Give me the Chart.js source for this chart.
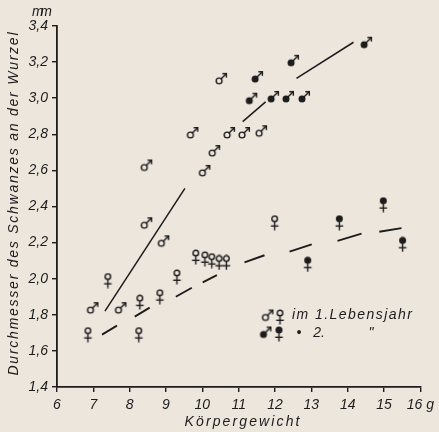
<!DOCTYPE html>
<html><head><meta charset="utf-8">
<script src="https://cdn.jsdelivr.net/npm/chart.js@4"></script>
<style>html,body{margin:0;padding:0;background:#ece6dd;} canvas{display:block}</style>
</head><body>
<canvas id="c" width="439" height="432"></canvas>
<script>
// ---- data ----
const male1X = [6.99, 7.76, 8.47, 8.94, 8.47, 9.74, 10.07, 10.34, 10.53, 10.75, 11.16, 11.63];
const male1Y = [1.84, 1.84, 2.31, 2.21, 2.63, 2.81, 2.60, 2.71, 3.11, 2.81, 2.81, 2.82];
const male2X = [11.36, 11.52, 11.96, 12.37, 12.51, 12.81, 14.52];
const male2Y = [3.00, 3.12, 3.01, 3.01, 3.21, 3.01, 3.31];
const female1X = [6.85, 7.40, 8.25, 8.28, 8.83, 9.30, 9.82, 10.07, 10.26, 10.46, 10.66, 11.99];
const female1Y = [1.69, 1.99, 1.69, 1.87, 1.90, 2.01, 2.12, 2.11, 2.10, 2.09, 2.09, 2.31];
const female2X = [12.90, 13.77, 14.98, 15.51];
const female2Y = [2.08, 2.31, 2.41, 2.19];
// trend curves (drawn in pieces as in the original)
const maleTrendSegX = [[7.32, 9.52], [11.11, 11.74], [12.59, 14.16]];
const maleTrendSegY = [[1.82, 2.50], [2.87, 2.98], [3.11, 3.31]];
const femTrendSegX = [[7.24, 7.65], [8.14, 8.55], [9.27, 9.71], [10.01, 10.40], [11.16, 11.71], [12.40, 13.01], [13.72, 14.38], [14.87, 15.48]];
const femTrendSegY = [[1.69, 1.74], [1.79, 1.84], [1.90, 1.95], [1.98, 2.02], [2.09, 2.13], [2.15, 2.19], [2.21, 2.25], [2.26, 2.28]];
const xTickValues = [6, 7, 8, 9, 10, 11, 12, 13, 14, 15, 16];
const xTickLabels = ['6', '7', '8', '9', '10', '11', '12', '13', '14', '15', '16 g'];
const yTickValues = [1.4, 1.6, 1.8, 2.0, 2.2, 2.4, 2.6, 2.8, 3.0, 3.2, 3.4];
const yTickLabels = ['1,4', '1,6', '1,8', '2,0', '2,2', '2,4', '2,6', '2,8', '3,0', '3,2', '3,4'];
const xTitle = 'Körpergewicht';
const yTitle = 'Durchmesser des Schwanzes an der Wurzel';
const unitLabel = 'mm';
const legendRow1 = 'im 1.Lebensjahr';
const legendRow2 = ['•', '2.', '"'];

// ---- styles ----
const INK = '#1c1c1c';
const FONT = 'italic 14px "Liberation Sans", Arial, sans-serif';

function makeMale(filled) {
  const c = document.createElement('canvas'); c.width = 15; c.height = 15;
  const g = c.getContext('2d');
  g.strokeStyle = INK; g.fillStyle = INK; g.lineWidth = 1.4; g.lineCap = 'round';
  g.beginPath();
  if (filled) { g.arc(5, 10, 3.5, 0, Math.PI * 2); g.fill(); }
  else { g.arc(5, 10, 2.9, 0, Math.PI * 2); g.stroke(); }
  g.beginPath(); g.moveTo(7.2, 7.8); g.lineTo(12.3, 2.7); g.stroke();
  g.beginPath(); g.moveTo(8.8, 2.7); g.lineTo(12.3, 2.7); g.lineTo(12.3, 6.2); g.stroke();
  return c;
}
function makeFemale(filled) {
  const c = document.createElement('canvas'); c.width = 11; c.height = 16;
  const g = c.getContext('2d');
  g.strokeStyle = INK; g.fillStyle = INK; g.lineWidth = 1.4; g.lineCap = 'butt';
  g.beginPath();
  if (filled) { g.arc(5.5, 4, 3.5, 0, Math.PI * 2); g.fill(); }
  else { g.arc(5.5, 4, 2.8, 0, Math.PI * 2); g.stroke(); }
  g.beginPath(); g.moveTo(5.5, 7); g.lineTo(5.5, 15.5); g.stroke();
  g.beginPath(); g.moveTo(1.7, 11.3); g.lineTo(9.3, 11.3); g.stroke();
  return c;
}
const imgM1 = makeMale(false), imgM2 = makeMale(true), imgF1 = makeFemale(false), imgF2 = makeFemale(true);

const pts = (xs, ys) => xs.map((x, i) => ({ x, y: ys[i] }));
function scatterSet(xs, ys, img) {
  return { type: 'scatter', data: pts(xs, ys), pointStyle: img, pointRadius: 6, pointHoverRadius: 6 };
}
function segSets(sx, sy, width) {
  return sx.map((xs, i) => ({ type: 'line', data: pts(xs, sy[i]), borderColor: INK, borderWidth: width,
    pointRadius: 0, fill: false, tension: 0, borderCapStyle: 'butt' }));
}

function drawSpaced(ctx, text, x, y, targetWidth, align) {
  ctx.letterSpacing = '0px';
  const w = ctx.measureText(text).width;
  const sp = text.length > 1 ? (targetWidth - w) / (text.length - 1) : 0;
  ctx.letterSpacing = sp + 'px';
  const total = w + sp * (text.length - 1);
  let sx = x;
  if (align === 'center') sx = x - total / 2;
  ctx.textAlign = 'left';
  ctx.fillText(text, sx, y);
  ctx.letterSpacing = '0px';
}

const decor = {
  id: 'decor',
  afterDraw(chart) {
    const ctx = chart.ctx;
    ctx.save();
    ctx.fillStyle = INK; ctx.font = FONT; ctx.textBaseline = 'middle';
    drawSpaced(ctx, xTitle, 242, 422, 115, 'center');
    drawSpaced(ctx, unitLabel, 42, 12, 20, 'center');
    ctx.save(); ctx.translate(14, 204); ctx.rotate(-Math.PI / 2);
    drawSpaced(ctx, yTitle, 0, 0, 343, 'center');
    ctx.restore();
    const di = (img, x, y) => ctx.drawImage(img, x - img.width / 2, y - img.height / 2);
    di(imgM1, 268, 315); di(imgF1, 280, 317);
    drawSpaced(ctx, legendRow1, 292, 315, 120, 'left');
    di(imgM2, 266, 332); di(imgF2, 279, 334);
    ctx.textAlign = 'center';
    ctx.fillText(legendRow2[0], 299, 333);
    ctx.fillText(legendRow2[1], 319, 333);
    ctx.fillText(legendRow2[2], 371, 333);
    ctx.restore();
  }
};

const bg = {
  id: 'bg',
  beforeDraw(chart) {
    const ctx = chart.ctx; ctx.save(); ctx.fillStyle = '#ece6dd';
    ctx.fillRect(0, 0, chart.width, chart.height); ctx.restore();
  }
};

const tickFont = { family: '"Liberation Sans", Arial, sans-serif', size: 14, style: 'italic' };

new Chart(document.getElementById('c'), {
  data: {
    datasets: [
      ...segSets(maleTrendSegX, maleTrendSegY, 1.5),
      ...segSets(femTrendSegX, femTrendSegY, 1.9),
      scatterSet(male1X, male1Y, imgM1),
      scatterSet(male2X, male2Y, imgM2),
      scatterSet(female1X, female1Y, imgF1),
      scatterSet(female2X, female2Y, imgF2)
    ]
  },
  options: {
    responsive: false, animation: false,
    layout: { padding: { top: 26, right: 18, left: 0, bottom: 0 } },
    plugins: { legend: { display: false }, tooltip: { enabled: false } },
    scales: {
      x: {
        type: 'linear', min: 6, max: 16,
        afterBuildTicks: s => { s.ticks = xTickValues.map(v => ({ value: v })); },
        afterFit: s => { s.height = 45; },
        ticks: { callback: (v, i) => xTickLabels[i], font: tickFont, color: INK, padding: 5, maxRotation: 0, autoSkip: false },
        grid: { drawOnChartArea: false, drawTicks: true, tickLength: 5, color: INK, lineWidth: 1.4 },
        border: { color: INK, width: 1.8 }
      },
      y: {
        type: 'linear', min: 1.4, max: 3.4,
        afterBuildTicks: s => { s.ticks = yTickValues.map(v => ({ value: v })); },
        afterFit: s => { s.width = 57; },
        ticks: { callback: (v, i) => yTickLabels[i], font: tickFont, color: INK, padding: 4, autoSkip: false },
        grid: { drawOnChartArea: false, drawTicks: true, tickLength: 5, color: INK, lineWidth: 1.4 },
        border: { color: INK, width: 1.8 }
      }
    }
  },
  plugins: [bg, decor]
});
</script>
</body></html>
